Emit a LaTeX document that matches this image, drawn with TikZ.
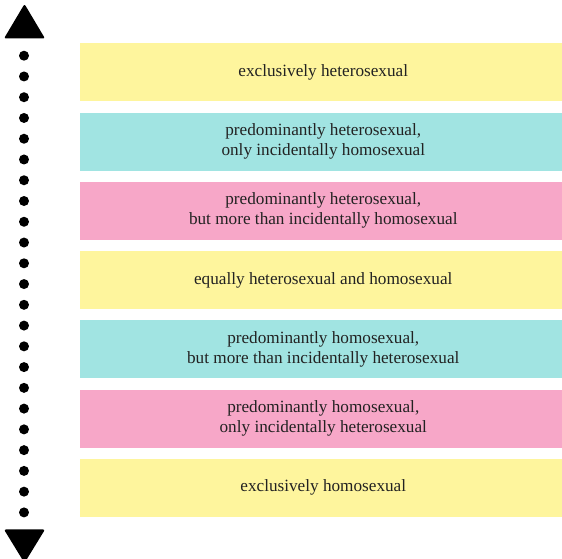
\documentclass[tikz,border=0pt]{standalone}
\usepackage{fontspec}
\setmainfont{Liberation Serif}
\definecolor{kyellow}{RGB}{254,245,157}
\definecolor{kteal}{RGB}{161,228,226}
\definecolor{kpink}{RGB}{247,167,200}
\definecolor{ktext}{RGB}{34,34,34}

\begin{document}
\begin{tikzpicture}[x=0.75pt,y=0.75pt,yscale=-1,xscale=1,
    band/.style={anchor=north west, minimum width=364.5pt, minimum height=43.5pt, inner sep=0pt, align=center, text=ktext, font=\fontsize{12.9}{15}\selectfont},
    dotline/.style={line width=7.5pt, line cap=round, dash pattern=on 0pt off 15.57pt},
    tiphead/.style={fill=black, rounded corners=1.5pt}]

        \useasboundingbox (0,0) rectangle (562,559);

        %Shape: Rectangle [k0]
        \node[band, fill=kyellow] (k0) at (80,43) {exclusively heterosexual};
        %Shape: Rectangle [k1]
        \node[band, fill=kteal] (k1) at (80,112.25) {predominantly heterosexual,\\only incidentally homosexual};
        %Shape: Rectangle [k2]
        \node[band, fill=kpink] (k2) at (80,181.5) {predominantly heterosexual,\\but more than incidentally homosexual};
        %Shape: Rectangle [k3]
        \node[band, fill=kyellow] (k3) at (80,250.75) {equally heterosexual and homosexual};
        %Shape: Rectangle [k4]
        \node[band, fill=kteal] (k4) at (80,320) {predominantly homosexual,\\but more than incidentally heterosexual};
        %Shape: Rectangle [k5]
        \node[band, fill=kpink] (k5) at (80,389.25) {predominantly homosexual,\\only incidentally heterosexual};
        %Shape: Rectangle [k6]
        \node[band, fill=kyellow] (k6) at (80,458.5) {exclusively homosexual};

        %Dotted Lines [scale axis]
        \coordinate (d0) at (24,55.7);
        \coordinate (d22) at (24,512.7);
        \draw[dotline] (d0) -- (d22);

        %Shape: Triangle [up]
        \coordinate (up) at (24.5,4);
        \fill[tiphead] (up) -- ++(20.5,34.5) -- ++(-41,0) -- cycle;
        %Shape: Triangle [down]
        \coordinate (down) at (24.5,563);
        \fill[tiphead] (down) -- ++(20.5,-33.5) -- ++(-41,0) -- cycle;

\end{tikzpicture}
\end{document}
